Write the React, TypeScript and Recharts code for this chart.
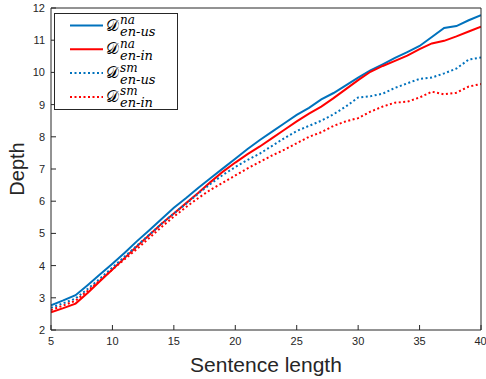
import { LineChart, Line, XAxis, YAxis, Legend, Label } from 'recharts';

const lengths = [5, 6, 7, 8, 9, 10, 11, 12, 13, 14, 15, 16, 17, 18, 19, 20, 21, 22, 23, 24, 25, 26, 27, 28, 29, 30, 31, 32, 33, 34, 35, 36, 37, 38, 39, 40];

const usNa = [2.77, 2.92, 3.08, 3.40, 3.73, 4.06, 4.40, 4.76, 5.10, 5.45, 5.80, 6.10, 6.42, 6.72, 7.02, 7.32, 7.62, 7.90, 8.16, 8.42, 8.68, 8.90, 9.16, 9.36, 9.60, 9.84, 10.06, 10.25, 10.45, 10.63, 10.82, 11.10, 11.38, 11.44, 11.62, 11.78];
const inNa = [2.55, 2.68, 2.82, 3.16, 3.52, 3.88, 4.24, 4.60, 4.95, 5.30, 5.62, 5.94, 6.26, 6.60, 6.92, 7.20, 7.46, 7.70, 7.96, 8.22, 8.48, 8.72, 8.94, 9.20, 9.48, 9.76, 10.02, 10.20, 10.36, 10.52, 10.72, 10.90, 10.98, 11.12, 11.27, 11.42];
const usSm = [2.69, 2.83, 2.98, 3.28, 3.60, 3.94, 4.28, 4.62, 4.96, 5.30, 5.62, 5.92, 6.24, 6.54, 6.82, 7.06, 7.28, 7.48, 7.72, 7.96, 8.18, 8.34, 8.50, 8.70, 8.94, 9.22, 9.26, 9.34, 9.52, 9.66, 9.80, 9.84, 9.97, 10.12, 10.40, 10.46];
const inSm = [2.62, 2.76, 2.91, 3.22, 3.55, 3.88, 4.20, 4.52, 4.86, 5.20, 5.52, 5.82, 6.10, 6.36, 6.58, 6.80, 7.02, 7.22, 7.42, 7.60, 7.80, 8.00, 8.14, 8.34, 8.48, 8.58, 8.78, 8.94, 9.06, 9.09, 9.22, 9.40, 9.32, 9.37, 9.56, 9.64];

const xTicks = [5, 10, 15, 20, 25, 30, 35, 40];
const yTicks = [2, 3, 4, 5, 6, 7, 8, 9, 10, 11, 12];

const seriesKeys = ['usNa', 'inNa', 'usSm', 'inSm'];
const seriesSup = ['na', 'na', 'sm', 'sm'];
const seriesSub = ['en-us', 'en-in', 'en-us', 'en-in'];

const data = lengths.map((len, i) => ({
  len,
  usNa: usNa[i],
  inNa: inNa[i],
  usSm: usSm[i],
  inSm: inSm[i],
}));

const BLUE = '#0072BD';
const RED = '#FF0000';
const AXIS = '#262626';
const DOTS = '2 2.5';
const tickStyle = { fontFamily: 'Liberation Sans, Arial, sans-serif', fontSize: 11, fill: AXIS };

// legend drawn by hand so the labels can carry a superscript and a subscript
function renderLegend(props: any) {
  const payload = props.payload || [];
  return (
    <svg width={124} height={98} style={{ display: 'block' }}>
      <rect x={0.5} y={0.5} width={123} height={96} fill="#fff" stroke={AXIS} />
      {payload.map((entry: any) => {
        const i = seriesKeys.indexOf(entry.dataKey);
        const cy = 12.5 + i * 23.8;
        return (
          <g key={entry.dataKey}>
            <line x1={16} x2={49} y1={cy} y2={cy} stroke={entry.color} strokeWidth={2}
              strokeDasharray={i >= 2 ? DOTS : undefined} />
            <text x={52} y={cy + 5} fontFamily="DejaVu Serif, serif" fontSize={16} fill="#000">𝒟</text>
            <text x={66} y={cy - 1.5} fontFamily="DejaVu Serif, serif" fontStyle="italic" fontSize={12} fill="#000">{seriesSup[i]}</text>
            <text x={66} y={cy + 10.5} fontFamily="DejaVu Serif, serif" fontStyle="italic" fontSize={13} fill="#000">{seriesSub[i]}</text>
          </g>
        );
      })}
    </svg>
  );
}

export default function App() {
  return (
    <div style={{ position: 'absolute', left: 0, top: 0, width: 486, height: 379, background: '#fff' }}>
      <LineChart width={486} height={379} data={data} margin={{ top: 7, right: 4, bottom: 0, left: 0 }}>
        <XAxis dataKey="len" type="number" domain={[5, 40]} ticks={xTicks} allowDataOverflow
          height={49} tickSize={-5} tickMargin={12} stroke={AXIS} tick={tickStyle}>
          <Label content={({ viewBox }: any) => (
            <text x={viewBox.x + viewBox.width / 2} y={viewBox.y + 42} textAnchor="middle"
              fontFamily="Liberation Sans, Arial, sans-serif" fontSize={21} fill={AXIS}>Sentence length</text>
          )} />
        </XAxis>
        <XAxis xAxisId="top" orientation="top" dataKey="len" type="number" domain={[5, 40]} ticks={xTicks}
          allowDataOverflow height={1} tickSize={-5} tick={false} stroke={AXIS} />
        <YAxis type="number" domain={[2, 12]} ticks={yTicks} allowDataOverflow width={51}
          tickSize={-5} tickMargin={11} stroke={AXIS} tick={tickStyle}>
          <Label content={({ viewBox }: any) => {
            const cx = viewBox.x + 17;
            const cy = viewBox.y + viewBox.height / 2;
            return (
              <text x={cx} y={cy} transform={`rotate(-90 ${cx} ${cy})`} textAnchor="middle" dominantBaseline="central"
                fontFamily="Liberation Sans, Arial, sans-serif" fontSize={20} fill={AXIS}>Depth</text>
            );
          }} />
        </YAxis>
        <YAxis yAxisId="right" orientation="right" type="number" domain={[2, 12]} ticks={yTicks}
          allowDataOverflow width={1} tickSize={-5} tick={false} stroke={AXIS} />
        <Legend layout="vertical" align="center" verticalAlign="middle" content={renderLegend}
          wrapperStyle={{ left: 54, top: 13, width: 124, height: 98 }} />
        <Line type="linear" dataKey="usNa" stroke={BLUE} strokeWidth={2} dot={false} isAnimationActive={false} />
        <Line type="linear" dataKey="inNa" stroke={RED} strokeWidth={2} dot={false} isAnimationActive={false} />
        <Line type="linear" dataKey="usSm" stroke={BLUE} strokeWidth={2} strokeDasharray={DOTS} dot={false} isAnimationActive={false} />
        <Line type="linear" dataKey="inSm" stroke={RED} strokeWidth={2} strokeDasharray={DOTS} dot={false} isAnimationActive={false} />
      </LineChart>
    </div>
  );
}
